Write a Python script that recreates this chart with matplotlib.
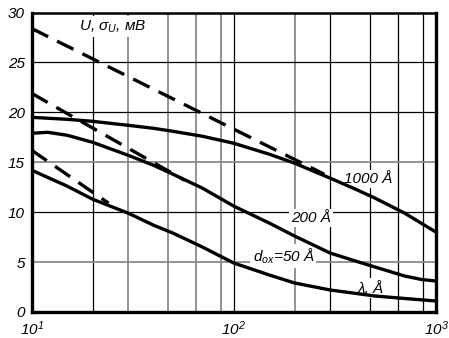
import matplotlib
matplotlib.use("Agg")
import matplotlib.pyplot as plt

# curve data (x in log scale, U in mV)
x_1000 = [10, 15, 20, 30, 40, 50, 70, 100, 150, 200, 300, 400, 500, 700, 1000]
u_1000 = [19.5, 19.3, 19.1, 18.7, 18.4, 18.1, 17.6, 16.9, 15.8, 14.9, 13.4, 12.3, 11.4, 9.9, 8.0]

x_200 = [10, 12, 15, 20, 30, 40, 50, 70, 100, 150, 200, 300, 400, 500, 700, 850, 1000]
u_200 = [17.9, 18.0, 17.7, 17.0, 15.7, 14.7, 13.8, 12.4, 10.6, 8.9, 7.6, 5.9, 5.1, 4.5, 3.6, 3.25, 3.1]

x_50 = [10, 15, 20, 30, 40, 50, 70, 100, 150, 200, 300, 500, 700, 1000]
u_50 = [14.2, 12.6, 11.3, 9.9, 8.7, 7.9, 6.5, 4.9, 3.7, 2.9, 2.2, 1.6, 1.35, 1.1]

# dashed asymptotes
dash_x = [[10, 280], [10, 57], [10, 24]]
dash_u = [[28.4, 13.8], [21.9, 13.2], [16.2, 10.9]]

y_ticks = [0, 5, 10, 15, 20, 25, 30]
x_ticks = [10, 100, 1000]
x_ticklabels = [r"$10^{1}$", r"$10^{2}$", r"$10^{3}$"]

fam = ["Liberation Sans Narrow", "Liberation Sans", "DejaVu Sans"]
plt.rcParams["font.family"] = fam
plt.rcParams["font.style"] = "italic"
plt.rcParams["mathtext.fontset"] = "custom"
plt.rcParams["mathtext.rm"] = "Liberation Sans:italic"
plt.rcParams["mathtext.it"] = "Liberation Sans:italic"

fig = plt.figure(figsize=(4.49, 3.38), dpi=100)
ax = fig.add_axes([0.0706, 0.077, 0.9004, 0.886])
ax.set_xscale("log")
ax.set_xlim(10, 1000)
ax.set_ylim(0, 30)

# grid lines (black and gray as in the original)
v_black = [20, 100, 300, 470, 650, 865]
v_gray = [30, 47, 65, 86, 200]
h_black = [10, 20, 25]
h_gray = [5, 15]
for v in v_black:
    ax.axvline(v, color="black", lw=0.9, zorder=1)
for v in v_gray:
    ax.axvline(v, color="#8a8a8a", lw=1.3, zorder=1)
for h in h_black:
    ax.axhline(h, color="black", lw=0.9, zorder=1)
for h in h_gray:
    ax.axhline(h, color="#8a8a8a", lw=1.3, zorder=1)

ax.plot(x_1000, u_1000, color="black", lw=2.4, zorder=4)
ax.plot(x_200, u_200, color="black", lw=2.4, zorder=4)
ax.plot(x_50, u_50, color="black", lw=2.4, zorder=4)
for dx, du in zip(dash_x, dash_u):
    ax.plot(dx, du, color="black", lw=2.4, dashes=(5.5, 3), zorder=4)

box = dict(facecolor="white", edgecolor="none", pad=1.5)
fs = 11
ax.text(17.2, 28.6, r"U, σ$_U$, мВ", fontsize=fs, ha="left", va="center",
        bbox=box, zorder=3)
ax.text(463, 13.3, "1000 Å", fontsize=fs, ha="center", va="center", bbox=box, zorder=3)
ax.text(240, 9.4, "200 Å", fontsize=fs, ha="center", va="center", bbox=box, zorder=3)
ax.text(176, 5.6, r"d$_{ox}$=50 Å", fontsize=fs, ha="center", va="center", bbox=box, zorder=3)
ax.text(473, 2.4, "λ, Å", fontsize=fs, ha="center", va="center", bbox=box, zorder=3)

ax.set_yticks(y_ticks)
ax.set_xticks(x_ticks)
ax.set_xticklabels(x_ticklabels)
ax.xaxis.set_minor_locator(matplotlib.ticker.NullLocator())
ax.tick_params(length=0, labelsize=fs, pad=5)

for side in ["left", "bottom", "right"]:
    ax.spines[side].set_linewidth(2.4)
ax.spines["top"].set_linewidth(1.8)

fig.savefig("out.png", dpi=100)
